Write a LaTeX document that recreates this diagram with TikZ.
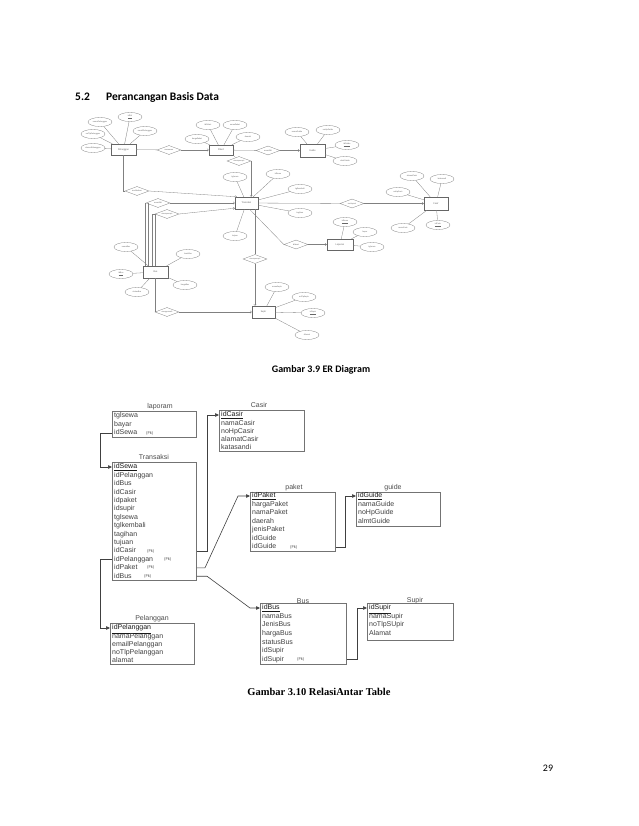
\documentclass[tikz,border=0pt]{standalone}
\usepackage{fontspec}
\setmainfont{Carlito}
\newfontfamily\arialf{Liberation Sans}
\newfontfamily\serf{Liberation Serif}
\usetikzlibrary{shapes.geometric,arrows.meta,calc}
\begin{document}
\begin{tikzpicture}[x=1pt,y=-1pt,
  ent/.style={draw=black!60, line width=0.4pt, inner sep=0pt, font=\fontsize{2.6}{3}\selectfont, text=black!60},
  att/.style={ellipse, draw=black!50, line width=0.3pt, minimum width=24pt, minimum height=9pt, inner sep=0pt, font=\fontsize{2.2}{2.5}\selectfont, text=black!60},
  rel/.style={diamond, aspect=3, draw=black!50, line width=0.3pt, minimum width=24pt, minimum height=9pt, inner sep=0pt, font=\fontsize{2.2}{2.5}\selectfont, text=black!60},
  erl/.style={draw=black!50, line width=0.3pt},
  era/.style={erl, -{Straight Barb[length=1.5pt,width=2.5pt]}},
  tbox/.style={draw=black!55, line width=0.9pt, anchor=north west, inner sep=0pt},
  row/.style={anchor=west, inner sep=0pt, text height=5.2pt, text depth=1.5pt, font=\arialf\fontsize{7}{8}\selectfont, text=black!75},
  key/.style={row, text=black!90},
  fk/.style={anchor=west, inner sep=0pt, text height=3pt, text depth=1pt, font=\arialf\fontsize{4}{5}\selectfont, text=black!70},
  ttl/.style={inner sep=0pt, font=\arialf\fontsize{7}{8}\selectfont, text=black!70},
  conn/.style={draw=black!75, line width=0.6pt, -{Triangle[length=4pt,width=3.5pt]}},
]
\useasboundingbox (0,0) rectangle (638,826);

% ---------------- heading ----------------
\node[anchor=base west, inner sep=0pt, font=\bfseries\fontsize{11.5}{14}\selectfont] (h1) at (75,101) {5.2};
\node[anchor=base west, inner sep=0pt, font=\bfseries\fontsize{11.5}{14}\selectfont] (h2) at (106,101) {Perancangan Basis Data};

% ---------------- ER diagram ----------------
% entities
\node[ent, minimum width=25pt, minimum height=11pt] (ePel) at (123.5,149.5) {Pelanggan};
\node[ent, minimum width=24pt, minimum height=10pt] (ePak) at (221,150) {Paket};
\node[ent, minimum width=25pt, minimum height=13pt] (eGui) at (312.5,150.5) {Guide};
\node[ent, minimum width=23pt, minimum height=12pt] (eTrx) at (246.5,203) {Transaksi};
\node[ent, minimum width=24pt, minimum height=13pt] (eCas) at (436,203.5) {Casir};
\node[ent, minimum width=26pt, minimum height=11pt] (eLap) at (340,244.5) {Laporan};
\node[ent, minimum width=25pt, minimum height=12pt] (eBus) at (155.5,272) {Bus};
\node[ent, minimum width=23pt, minimum height=12pt] (eSup) at (263.5,312) {Supir};

% relationships
\node[rel] (r1) at (169,150) {memesan};
\node[rel] (r2) at (268,150.5) {memiliki};
\node[rel] (r3) at (239,161) {mempunyai};
\node[rel] (r4) at (137,191) {melakukan};
\node[rel] (r5) at (158,203) {memiliki};
\node[rel] (r6) at (167,214) {mempunyai};
\node[rel] (r7) at (352,203.5) {melayani};
\node[rel] (r8) at (296,244.5) {dibuat};
\node[rel] (r9) at (255,259) {mempunyai};
\node[rel] (r10) at (167,312) {mengemudi};

% attributes: Pelanggan
\node[att] (aPel1) at (130,117) {\underline{idPel}};
\node[att] (aPel2) at (100,122) {namaPelanggan};
\node[att] (aPel3) at (145,131) {emailPelanggan};
\node[att] (aPel4) at (93,134) {noTlpPelanggan};
\node[att] (aPel5) at (93,148) {alamatPelanggan};
% Paket
\node[att] (aPak1) at (208,125) {idPaket};
\node[att] (aPak2) at (235,125) {namaPaket};
\node[att] (aPak3) at (197,139) {hargaPaket};
\node[att] (aPak4) at (248,137) {daerah};
% Guide
\node[att] (aGui1) at (297,132) {namaGuide};
\node[att] (aGui2) at (328,130) {noHpGuide};
\node[att] (aGui3) at (347,145) {\underline{idGuide}};
\node[att] (aGui4) at (345,161) {almtGuide};
% Transaksi
\node[att] (aTrx1) at (235,177) {tglsewa};
\node[att] (aTrx2) at (278,174) {idSewa};
\node[att] (aTrx3) at (300,189) {tglkembali};
\node[att] (aTrx4) at (300,213) {tagihan};
\node[att] (aTrx5) at (235,236) {tujuan};
% Casir
\node[att] (aCas1) at (412,176) {alamatCasir};
\node[att] (aCas2) at (442,179) {katasandi};
\node[att] (aCas3) at (398,192) {noHpCasir};
\node[att] (aCas4) at (403,228) {namaCasir};
\node[att] (aCas5) at (438,225) {\underline{idCasir}};
% Laporan
\node[att] (aLap1) at (345,222) {\underline{idSewa}};
\node[att] (aLap2) at (365,232) {bayar};
\node[att] (aLap3) at (372,247) {tglsewa};
% Bus
\node[att] (aBus1) at (126,247) {namaBus};
\node[att] (aBus2) at (188,254) {JenisBus};
\node[att] (aBus3) at (121,274) {\underline{idBus}};
\node[att] (aBus4) at (185,285) {hargaBus};
\node[att] (aBus5) at (137,292) {statusBus};
% Supir
\node[att] (aSup1) at (277,287) {namaSupir};
\node[att] (aSup2) at (304,297) {noTlpSupir};
\node[att] (aSup3) at (313,313) {\underline{idSupir}};
\node[att] (aSup4) at (307,335) {Alamat};

% attribute links
\foreach \a in {aPel1,aPel2,aPel3,aPel4,aPel5} \draw[erl] (\a) -- (ePel);
\foreach \a in {aPak1,aPak2,aPak3,aPak4} \draw[erl] (\a) -- (ePak);
\foreach \a in {aGui1,aGui2,aGui3,aGui4} \draw[erl] (\a) -- (eGui);
\foreach \a in {aTrx1,aTrx2,aTrx3,aTrx4,aTrx5} \draw[erl] (\a) -- (eTrx);
\foreach \a in {aCas1,aCas2,aCas3,aCas4,aCas5} \draw[erl] (\a) -- (eCas);
\foreach \a in {aLap1,aLap2,aLap3} \draw[erl] (\a) -- (eLap);
\foreach \a in {aBus1,aBus2,aBus3,aBus4,aBus5} \draw[erl] (\a) -- (eBus);
\foreach \a in {aSup1,aSup2,aSup3,aSup4} \draw[erl] (\a) -- (eSup);

% relationship links
\draw[erl] (ePel) -- (r1);
\draw[era] (r1) -- (ePak);
\draw[erl] (ePak) -- (r2);
\draw[era] (r2) -- (eGui);
\draw[erl] (ePak.south east) -- (r3);
\draw[era] (r3.east) -- (r3.east |- eTrx.north);
\draw[erl] (ePel.south) -- (ePel.south |- r4) -- (r4);
\draw[era] (r4.east) -- ($(eTrx.north west)+(2,0)$);
\draw[erl] (145,266) -- (145,203) -- (r5.west);
\draw[erl] (148,266) -- (148,203);
\draw[era] (r5.east) -- (eTrx.west |- r5);
\draw[erl] (152,266) -- (152,214) -- (r6.west);
\draw[erl] (155,266) -- (155,214);
\draw[era] (r6.east) -- ($(eTrx.south west)+(0,-1)$);
\draw[erl] (eTrx) -- (r7);
\draw[era] (r7) -- (eCas);
\draw[erl] ($(eTrx.south)+(3,0)$) -- (r8.west);
\draw[era] (r8) -- (eLap);
\draw[erl] (r9.north |- eTrx.south) -- (r9.north);
\draw[era] (r9.south) -- (r9.south |- eSup.north);
\draw[erl] (r10.west |- eBus.south) -- (r10.west);
\draw[era] (r10.east) -- (eSup.west);

\node[anchor=base, inner sep=0pt, font=\bfseries\fontsize{10}{12}\selectfont] (cap1) at (321,372) {Gambar 3.9 ER Diagram};

% ---------------- relational tables ----------------
% laporam
\node[ttl] (tLap) at (160,407) {laporam};
\node[tbox, minimum width=84pt, minimum height=26pt] (lapB) at (112,411) {};
\node[row] (lap1) at (114,416) {tglsewa};
\node[row] (lap2) at (114,424.5) {bayar};
\node[row] (lap3) at (114,433) {idSewa};
\node[fk] (lapf) at (146,433) {(Fk)};

% Casir
\node[ttl] (tCas) at (259,405) {Casir};
\node[tbox, minimum width=85pt, minimum height=41pt] (casB) at (219,410) {};
\node[key] (cs1) at (221,415) {\underline{idCasir}};
\node[row] (cs2) at (221,423.2) {namaCasir};
\node[row] (cs3) at (221,431.4) {noHpCasir};
\node[row] (cs4) at (221,439.6) {alamatCasir};
\node[row] (cs5) at (221,447.8) {katasandi};

% Transaksi
\node[ttl] (tTrx) at (154,457) {Transaksi};
\node[tbox, minimum width=84pt, minimum height=118pt] (trxB) at (112,462) {};
\foreach \t [count=\i from 2] in {idPelanggan,idBus,idCasir,idpaket,idsupir,tglsewa,tglkembali,tagihan,tujuan,idCasir,idPelanggan,idPaket,idBus}
  \node[row] (tr\i) at (114,{467+8.4*(\i-1)}) {\t};
\node[key] (tr1) at (114,467) {\underline{idSewa}};
\node[fk] (trf11) at (147,551) {(Fk)};
\node[fk] (trf12) at (164,559.4) {(Fk)};
\node[fk] (trf13) at (147,567.8) {(Fk)};
\node[fk] (trf14) at (144,576.2) {(Fk)};

% paket
\node[ttl] (tPak) at (294,488) {paket};
\node[tbox, minimum width=85pt, minimum height=59pt] (pakB) at (250,492) {};
\foreach \t [count=\i from 2] in {hargaPaket,namaPaket,daerah,jenisPaket,idGuide,idGuide}
  \node[row] (pk\i) at (252,{496+8.5*(\i-1)}) {\t};
\node[key] (pk1) at (252,496) {\underline{idPaket}};
\node[fk] (pkf) at (290,547) {(Fk)};

% guide
\node[ttl] (tGui) at (393,488) {guide};
\node[tbox, minimum width=84pt, minimum height=34pt] (guiB) at (356,492) {};
\node[key] (gd1) at (358,496) {\underline{idGuide}};
\node[row] (gd2) at (358,504.5) {namaGuide};
\node[row] (gd3) at (358,513) {noHpGuide};
\node[row] (gd4) at (358,521.5) {almtGuide};

% Pelanggan
\node[ttl] (tPel) at (152,619) {Pelanggan};
\node[tbox, minimum width=84pt, minimum height=41pt] (pelB) at (110,623) {};
\node[key] (pl1) at (112,628) {\underline{idPelanggan}};
\node[row] (pl2) at (112,636.2) {namaPelanggan};
\node[row] (pl3) at (112,644.4) {emailPelanggan};
\node[row] (pl4) at (112,652.6) {noTlpPelanggan};
\node[row] (pl5) at (112,660.8) {alamat};

% Bus
\node[ttl] (tBus) at (303,601) {Bus};
\node[tbox, minimum width=86pt, minimum height=61pt] (busB) at (260,603) {};
\foreach \t [count=\i from 2] in {namaBus,JenisBus,hargaBus,statusBus,idSupir,idSupir}
  \node[row] (bs\i) at (262,{608+8.55*(\i-1)}) {\t};
\node[key] (bs1) at (262,608) {\underline{idBus}};
\node[fk] (bsf) at (297,659.3) {(Fk)};

% Supir
\node[ttl] (tSup) at (415,601) {Supir};
\node[tbox, minimum width=86pt, minimum height=37pt] (supB) at (367,603) {};
\node[key] (sp1) at (369,608) {\underline{idSupir}};
\node[row] (sp2) at (369,616.5) {namaSupir};
\node[row] (sp3) at (369,625) {noTlpSUpir};
\node[row] (sp4) at (369,633.5) {Alamat};

% connectors
\coordinate (j1) at (100,0);
\coordinate (j3) at (207,0);
\coordinate (j4) at (205,0);
\coordinate (j5) at (238,0);
\coordinate (j6) at (207,0);
\coordinate (j7) at (250,0);
\coordinate (j8) at (345,0);
\coordinate (j9) at (357,0);
\draw[conn] (lapB.west |- lap3) -- (j1 |- lap3) -- (j1 |- tr1) -- (trxB.west |- tr1);
\draw[conn] (trxB.west |- tr12) -- (j1 |- tr12) -- (j1 |- pl1) -- (pelB.west |- pl1);
\draw[conn] (trxB.east |- tr11) -- (j3 |- tr11) -- (j3 |- cs1) -- (casB.west |- cs1);
\draw[conn] (trxB.east |- tr13) -- (j4 |- tr13) -- (j5 |- pk1) -- (pakB.west |- pk1);
\draw[conn] (trxB.east |- tr14) -- (j6 |- tr14) -- (j7 |- bs1) -- (busB.west |- bs1);
\draw[conn] (pakB.east |- pk7) -- (j8 |- pk7) -- (j8 |- gd1) -- (guiB.west |- gd1);
\draw[conn] (busB.east |- bs7) -- (j9 |- bs7) -- (j9 |- sp1) -- (supB.west |- sp1);

\node[anchor=base, inner sep=0pt, font=\serf\bfseries\fontsize{10.5}{12}\selectfont] (cap2) at (319,695) {Gambar 3.10 RelasiAntar Table};

\node[anchor=base, inner sep=0pt, font=\fontsize{10}{12}\selectfont] (pg) at (548,771) {29};
\end{tikzpicture}
\end{document}
